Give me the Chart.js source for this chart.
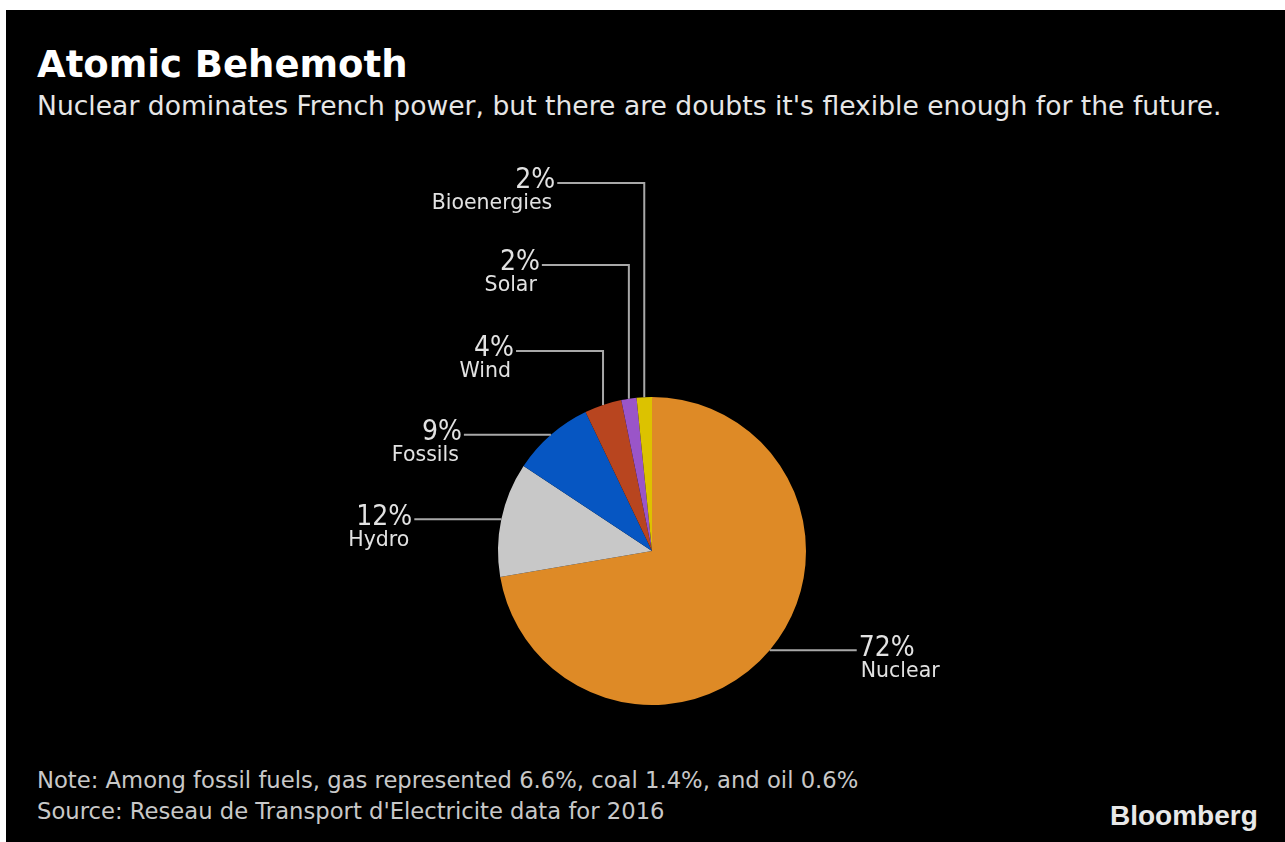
<!DOCTYPE html>
<html>
<head>
<meta charset="utf-8">
<script src="https://cdn.jsdelivr.net/npm/chart.js@4"></script>
<style>
body { margin:0; background:#fff; width:1285px; height:842px; overflow:hidden; position:relative; font-family:"DejaVu Sans", sans-serif; }
#panel { position:absolute; left:6px; top:10px; right:0; bottom:0; background:#000; }
#title { position:absolute; left:37px; top:43px; color:#fff; font-weight:bold; font-size:37px; }
#sub { position:absolute; left:37px; top:90px; color:#e6e6e6; font-size:26.6px; }
.foot { position:absolute; left:37px; color:#c8c8c8; font-size:22.7px; }
#brand { position:absolute; left:1110px; top:800px; color:#e8e8e8; font-family:"Liberation Sans", Arial; font-weight:bold; font-size:28px; letter-spacing:0px; }
#wrap { position:absolute; left:0; top:0; width:1285px; height:842px; }
</style>
</head>
<body>
<div id="panel"></div>
<div id="title">Atomic Behemoth</div>
<div id="sub">Nuclear dominates French power, but there are doubts it's flexible enough for the future.</div>
<div class="foot" style="top:767px">Note: Among fossil fuels, gas represented 6.6%, coal 1.4%, and oil 0.6%</div>
<div class="foot" style="top:798px">Source: Reseau de Transport d'Electricite data for 2016</div>
<div id="brand">Bloomberg</div>
<div id="wrap"><canvas id="mycanvas" width="1285" height="842"></canvas></div>
<script>
// share of French power generation, 2016
var sources = ["Nuclear", "Hydro", "Fossils", "Wind", "Solar", "Bioenergies"];
var shares = [72.3, 12.0, 8.6, 3.9, 1.6, 1.6];
var shareLabels = ["72%", "12%", "9%", "4%", "2%", "2%"];
var colors = ["#de8a26", "#c8c8c8", "#0656c2", "#b8451f", "#9a55c8", "#dcc200"];

// where the leader lines end (index into sources -> vertical rise to y, or null for straight)
var riseTo = [null, null, null, 351, 265, 183];
var lead = 87;

var leaders = {
    id: "leaders",
    afterDatasetsDraw: function(chart) {
        var ctx = chart.ctx;
        var arcs = chart.getDatasetMeta(0).data;
        ctx.save();
        ctx.strokeStyle = "#a8a8a8";
        ctx.lineWidth = 2;
        for (var i in arcs) {
            var a = arcs[i].getProps(["x", "y", "startAngle", "endAngle", "outerRadius"], true);
            var mid = (a.startAngle + a.endAngle) / 2;
            var px = a.x + Math.cos(mid) * a.outerRadius;
            var py = a.y + Math.sin(mid) * a.outerRadius;
            var right = px > a.x;
            var ly = py, lx;
            ctx.beginPath();
            ctx.moveTo(px, py);
            if (riseTo[i] != null) {
                ly = riseTo[i];
                ctx.lineTo(px, ly);
            }
            lx = right ? px + lead : px - lead;
            ctx.lineTo(lx, ly);
            ctx.stroke();

            ctx.fillStyle = "#e2e2e2";
            ctx.textBaseline = "middle";
            ctx.textAlign = right ? "left" : "right";
            ctx.font = "28px 'DejaVu Sans Condensed', 'DejaVu Sans'";
            ctx.fillText(shareLabels[i], right ? lx + 2 : lx - 2, ly - 2);
            ctx.font = "20.5px 'DejaVu Sans'";
            ctx.fillText(sources[i], right ? lx + 4 : lx - 5, ly + 21);
        }
        ctx.restore();
    }
};

var ctx = document.getElementById("mycanvas");
var pie = new Chart(ctx, {
    type: "pie",
    data: {
        labels: sources,
        datasets: [{
            data: shares,
            backgroundColor: colors,
            borderWidth: 0
        }]
    },
    options: {
        responsive: false,
        animation: false,
        layout: { padding: { left: 498, right: 479, top: 397, bottom: 137 } },
        plugins: { legend: { display: false }, tooltip: { enabled: false } }
    },
    plugins: [leaders]
});
</script>
</body>
</html>
